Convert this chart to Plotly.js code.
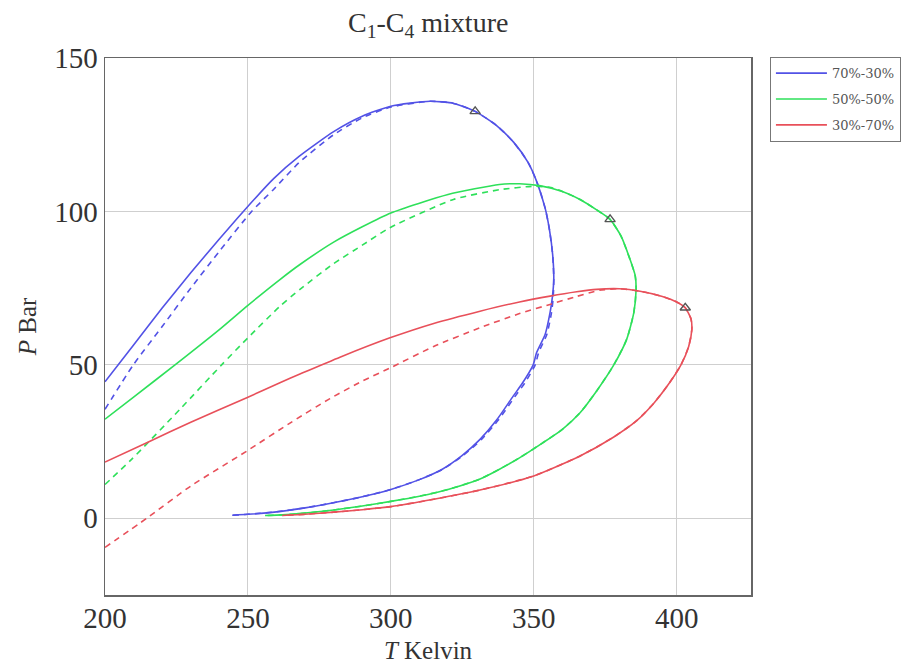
<!DOCTYPE html>
<html>
<head>
<meta charset="utf-8">
<script src="https://cdn.plot.ly/plotly-3.0.1.min.js"></script>
<style>html,body{margin:0;padding:0;background:#fff;}#chart{width:915px;height:667px;}</style>
</head>
<body>
<div id="chart"></div>
<script>
// ---- Data ----
const seriesNames = ["70%-30%", "50%-50%", "30%-70%"];

// 70%-30% solid
const T_70_solid = [200, 210, 220, 230, 240, 248.4, 259, 268, 280, 290, 300, 313.7, 322, 329.5, 337, 343, 348, 351, 354, 355.5, 356.6, 357, 356.5, 355.7, 354, 351, 349.8, 346, 342.8, 337, 331.2, 325, 318, 310, 300, 290, 279, 270, 260, 250, 244.5];
const P_70_solid = [44.5, 56.5, 68.5, 80, 91, 100, 110.7, 118, 126, 131, 134.3, 135.9, 135.2, 132.6, 128, 122.5, 116, 109.8, 101, 94, 86, 78, 72, 67, 60, 54, 50, 44, 39.8, 32, 25.7, 20.5, 16, 12.6, 9.4, 7, 4.9, 3.4, 2.1, 1.3, 1.0];
// 70%-30% dashed
const T_70_dash = [200, 209.9, 220, 230, 240, 251.3, 258.8, 268, 280, 290, 300, 313.7, 322, 329.5, 337, 343, 348, 351, 354, 355.5, 356.6, 357, 356.8, 356.2, 354.6, 351.7, 350.5, 346.8, 343.5, 337.6, 331.7, 325.3, 318.2, 310, 300, 290, 279, 270, 260, 250, 244.5];
const P_70_dash = [35.5, 50, 62.5, 75, 87, 100, 107, 116, 125, 130.5, 134, 135.9, 135.2, 132.6, 128, 122.5, 116, 109.8, 101, 94, 86, 78, 72, 67, 60, 54, 50, 44, 39.8, 32, 25.7, 20.5, 16, 12.6, 9.4, 7, 4.9, 3.4, 2.1, 1.3, 1.0];

// 50%-50% solid
const T_50_solid = [200, 210, 224.5, 240, 250, 261.2, 268.2, 280, 290, 300, 320, 338, 345, 352, 360, 366.2, 372, 376.7, 380.5, 383.7, 385.5, 385.8, 385, 382.5, 377.9, 372, 366.2, 360, 353, 345, 338, 331.2, 320, 310, 300, 290, 280, 270, 262, 256];
const P_50_solid = [32.3, 39.5, 50, 61.5, 69.4, 77.8, 82.7, 90, 95, 99.5, 105.5, 108.8, 109, 108.4, 106.5, 103.9, 100.5, 97.4, 92, 84.3, 79, 74.6, 67, 58.3, 49.8, 41.5, 34.4, 29, 24.5, 19.7, 16, 12.8, 9.4, 7.2, 5.5, 4.0, 2.7, 1.7, 1.1, 0.9];
// 50%-50% dashed
const T_50_dash = [200, 209.3, 226.2, 240.8, 250, 261.2, 268.2, 280, 290, 299.7, 321.9, 338.2, 350, 356, 360, 366.2, 372, 376.7, 380.5, 383.7, 385.5, 385.8, 385, 382.5, 377.9, 372, 366.2, 360, 353, 345, 338, 331.2, 320, 310, 300, 290, 280, 270, 262, 256];
const P_50_dash = [11, 19.2, 35.5, 50, 58.8, 69.1, 74.6, 83, 89, 94.7, 103.9, 107.1, 108.2, 107.8, 106.5, 103.9, 100.5, 97.4, 92, 84.3, 79, 74.6, 67, 58.3, 49.8, 41.5, 34.4, 29, 24.5, 19.7, 16, 12.8, 9.4, 7.2, 5.5, 4.0, 2.7, 1.7, 1.1, 0.9];

// 30%-70% solid
const T_30_solid = [200, 215, 230, 249.6, 261.2, 268.2, 282.2, 299.7, 315, 331.2, 345, 355.7, 365, 372, 380, 387.2, 395, 400, 403, 405, 405.3, 404.2, 401.5, 397, 392, 386, 378, 366.2, 350, 331.2, 315, 300, 290, 280, 270, 262];
const P_30_solid = [18.3, 24.8, 31.3, 39.3, 44.2, 47, 52.5, 58.8, 63.5, 67.5, 70.5, 72.4, 73.8, 74.6, 74.8, 74, 72.3, 70.5, 68.6, 65, 61.5, 56, 50, 43.5, 37.5, 31.8, 26.5, 20.3, 13.8, 9.2, 6.2, 3.8, 2.8, 2.0, 1.3, 0.9];
// 30%-70% dashed
const T_30_dash = [200, 214.6, 230, 249.6, 265, 278.7, 290, 300, 315, 331.2, 345, 355.7, 365, 373, 380, 387.2, 395, 400, 403, 405, 405.3, 404.2, 401.5, 397, 392, 386, 378, 366.2, 350, 331.2, 315, 300, 290, 280, 270, 262];
const P_30_dash = [-9.5, 0, 10.5, 21.9, 31.2, 39, 44.7, 49.1, 56, 62.1, 66.7, 69.7, 72.3, 74.3, 74.8, 74, 72.3, 70.5, 68.6, 65, 61.5, 56, 50, 43.5, 37.5, 31.8, 26.5, 20.3, 13.8, 9.2, 6.2, 3.8, 2.8, 2.0, 1.3, 0.9];

// Critical-point markers (triangles)
const T_crit = [329.5, 376.7, 403];
const P_crit = [132.6, 97.4, 68.6];

// Tick values
const xTicks = [200, 250, 300, 350, 400];
const yTicks = [0, 50, 100, 150];

// ---- Styling ----
const colors = ["#5252e6", "#2ee05a", "#e8505a"];
const serif = "Liberation Serif, DejaVu Serif, serif";

function solid(T, P, i) {
  return {x: T, y: P, type: "scatter", mode: "lines", name: seriesNames[i],
    legendgroup: "g" + i,
    line: {color: colors[i], width: 1.6, shape: "spline", smoothing: 0.6},
    hoverinfo: "skip", showlegend: true};
}
function dashed(T, P, i) {
  return {x: T, y: P, type: "scatter", mode: "lines", name: seriesNames[i] + " (dashed)",
    legendgroup: "g" + i,
    line: {color: colors[i], width: 1.6, dash: "6px,5px", shape: "spline", smoothing: 0.6},
    hoverinfo: "skip", showlegend: false};
}

const data = [
  solid(T_70_solid, P_70_solid, 0), dashed(T_70_dash, P_70_dash, 0),
  solid(T_50_solid, P_50_solid, 1), dashed(T_50_dash, P_50_dash, 1),
  solid(T_30_solid, P_30_solid, 2), dashed(T_30_dash, P_30_dash, 2),
  {x: T_crit, y: P_crit, type: "scatter", mode: "markers", showlegend: false,
   marker: {symbol: "triangle-up-open", size: 9, color: "#555", line: {width: 1.4, color: "#555"}}}
];

const layout = {
  width: 915, height: 667,
  margin: {l: 105, r: 164, t: 58, b: 72, pad: 0},
  paper_bgcolor: "#fff", plot_bgcolor: "#fff",
  font: {family: serif, color: "#333"},
  title: {text: "C<sub>1</sub>-C<sub>4</sub> mixture", font: {family: serif, size: 28, color: "#333"},
          x: 0.468, xanchor: "center", y: 0.967, yanchor: "middle", yref: "container"},
  xaxis: {range: [200, 426], tickvals: xTicks, ticktext: xTicks.map(String),
          showgrid: true, gridcolor: "#cfcfcf", gridwidth: 1, zeroline: false,
          showline: true, linecolor: "#666", linewidth: 1.5, mirror: true,
          ticks: "", ticklabelstandoff: -3, tickfont: {family: serif, size: 29, color: "#333"},
          title: {text: "<i>T</i> Kelvin", font: {family: serif, size: 25, color: "#333"}, standoff: 8}},
  yaxis: {range: [-25, 150], tickvals: yTicks, ticktext: yTicks.map(String),
          showgrid: true, gridcolor: "#cfcfcf", gridwidth: 1, zeroline: false,
          showline: true, linecolor: "#666", linewidth: 1.5, mirror: true,
          ticks: "", tickfont: {family: serif, size: 29, color: "#333"},
          title: {text: "<i>P</i> Bar", font: {family: serif, size: 25, color: "#333"}, standoff: 10}},
  legend: {x: 1.029, xanchor: "left", y: 1.002, yanchor: "top",
           bgcolor: "#fff", bordercolor: "#777", borderwidth: 1.2,
           font: {family: "DejaVu Serif, serif", size: 13, color: "#555"},
           itemwidth: 51, tracegroupgap: 6}
};

Plotly.newPlot("chart", data, layout, {staticPlot: true, displayModeBar: false});
</script>
</body>
</html>
